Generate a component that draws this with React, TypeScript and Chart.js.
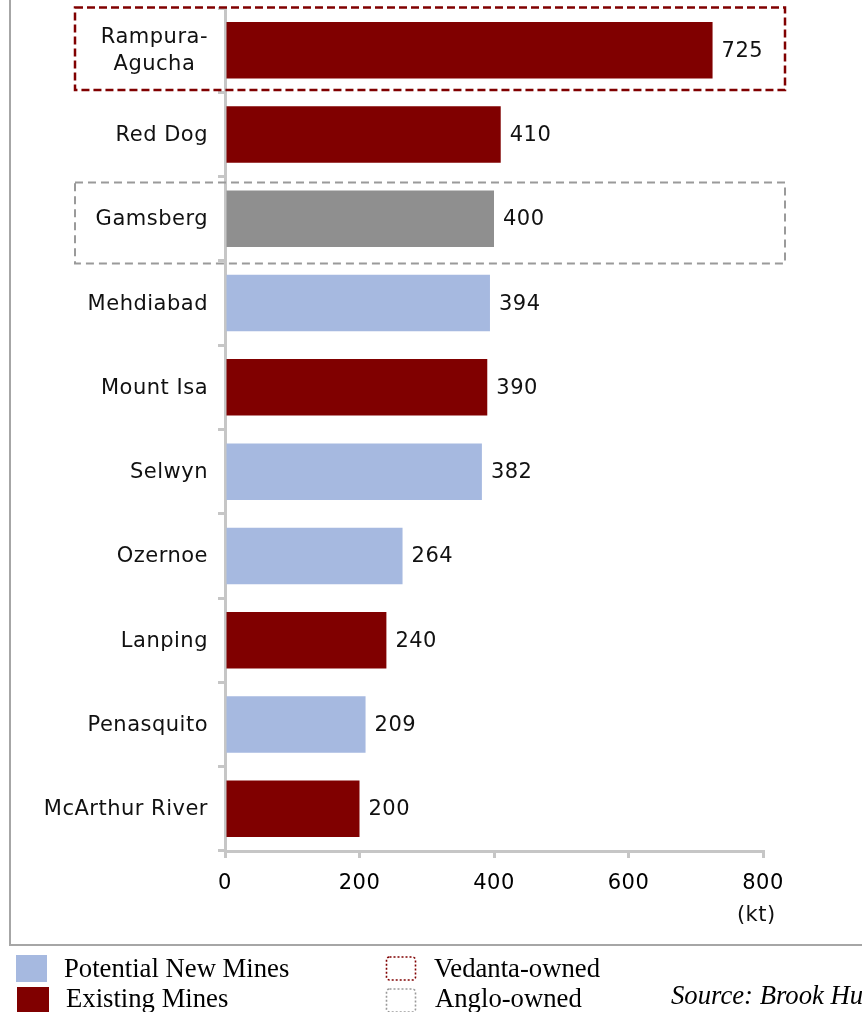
import React, { useEffect, useRef } from 'react';
import { Chart, registerables } from 'chart.js';

Chart.register(...registerables);

// ---- data ----
const categories: (string | string[])[] = [
  ['Rampura-', 'Agucha'],
  'Red Dog',
  'Gamsberg',
  'Mehdiabad',
  'Mount Isa',
  'Selwyn',
  'Ozernoe',
  'Lanping',
  'Penasquito',
  'McArthur River',
];
const values: number[] = [725, 410, 400, 394, 390, 382, 264, 240, 209, 200];
const mineTypes: string[] = [
  'existing',
  'existing',
  'anglo',
  'potential',
  'existing',
  'potential',
  'potential',
  'existing',
  'potential',
  'existing',
];
const xTickValues: number[] = [0, 200, 400, 600, 800];
const unitLabel = '(kt)';
const ownedBoxes = [
  { owner: 'Vedanta', index: 0 },
  { owner: 'Anglo', index: 2 },
];
const legendLeft = [
  { label: 'Potential New Mines', type: 'potential' },
  { label: 'Existing Mines', type: 'existing' },
];
const legendRight = [
  { label: 'Vedanta-owned', owner: 'Vedanta' },
  { label: 'Anglo-owned', owner: 'Anglo' },
];
const sourceText = 'Source: Brook Hunt';

// ---- style ----
const W = 862;
const H = 1012;
const typeColors: Record<string, string> = {
  existing: '#800000',
  potential: '#a6b9e0',
  anglo: '#8f8f8f',
};
const ownerColors: Record<string, string> = {
  Vedanta: '#800000',
  Anglo: '#9a9a9a',
};
const axisColor = '#c6c6c6';
const SANS = '"DejaVu Sans"';
const SERIF = '"Liberation Serif"';
const LS = '0.5px';

const decorPlugin = {
  id: 'decor',
  beforeDraw(chart: any) {
    const ctx = chart.ctx as CanvasRenderingContext2D;
    ctx.save();
    ctx.fillStyle = '#ffffff';
    ctx.fillRect(0, 0, W, H);
    ctx.strokeStyle = '#a6a6a6';
    ctx.lineWidth = 2;
    ctx.beginPath();
    ctx.moveTo(10, 0);
    ctx.lineTo(10, 945);
    ctx.lineTo(W, 945);
    ctx.stroke();
    ctx.restore();
    (ctx as any).letterSpacing = LS;
  },
  afterDraw(chart: any) {
    const ctx = chart.ctx as CanvasRenderingContext2D;
    const yScale = chart.scales.y;
    const xScale = chart.scales.x;
    ctx.save();
    (ctx as any).letterSpacing = LS;

    // ownership boxes
    ownedBoxes.forEach((b) => {
      const offs = b.owner === 'Vedanta' ? [-0.506, 0.472] : [-0.43, 0.53];
      const top = yScale.getPixelForValue(b.index + offs[0]);
      const bottom = yScale.getPixelForValue(b.index + offs[1]);
      ctx.save();
      ctx.strokeStyle = ownerColors[b.owner];
      ctx.lineWidth = b.owner === 'Vedanta' ? 2.5 : 2;
      ctx.setLineDash(b.owner === 'Vedanta' ? [8, 4] : [8, 5]);
      ctx.strokeRect(75, top, 710, bottom - top);
      ctx.restore();
    });

    // category labels
    ctx.fillStyle = '#111111';
    ctx.font = `21px ${SANS}`;
    ctx.textBaseline = 'middle';
    categories.forEach((c, i) => {
      const y = yScale.getPixelForValue(i);
      const right = 208;
      if (Array.isArray(c)) {
        const widths = c.map((l) => ctx.measureText(l).width);
        const wmax = Math.max(...widths);
        const cx = right - wmax / 2;
        ctx.textAlign = 'center';
        const lh = 27;
        c.forEach((l, k) => {
          ctx.fillText(l, cx, y + 1 + (k - (c.length - 1) / 2) * lh);
        });
      } else {
        ctx.textAlign = 'right';
        ctx.fillText(c, right, y + 1);
      }
    });

    // value labels
    const meta = chart.getDatasetMeta(0);
    ctx.textAlign = 'left';
    meta.data.forEach((bar: any, i: number) => {
      ctx.fillText(String(values[i]), bar.x + 9, bar.y + 1);
    });

    // unit label
    ctx.textAlign = 'center';
    ctx.fillText(unitLabel, xScale.getPixelForValue(790), 916);

    // legend
    (ctx as any).letterSpacing = '0px';
    ctx.font = `26.7px ${SERIF}`;
    ctx.textAlign = 'left';
    ctx.textBaseline = 'alphabetic';
    ctx.fillStyle = '#000000';
    legendLeft.forEach((it, k) => {
      ctx.fillStyle = typeColors[it.type];
      if (k === 0) ctx.fillRect(16, 955, 31, 27);
      else ctx.fillRect(17, 987, 32, 27);
      ctx.fillStyle = '#000000';
      ctx.fillText(it.label, k === 0 ? 64 : 66, k === 0 ? 977 : 1007);
    });
    legendRight.forEach((it, k) => {
      ctx.save();
      ctx.strokeStyle = ownerColors[it.owner];
      ctx.lineWidth = 1.6;
      ctx.setLineDash([2, 2]);
      const y0 = k === 0 ? 957 : 989;
      ctx.beginPath();
      (ctx as any).roundRect(386.5, y0, 29, 23, 3);
      ctx.stroke();
      ctx.restore();
      ctx.fillStyle = '#000000';
      ctx.fillText(it.label, k === 0 ? 434 : 435, k === 0 ? 977 : 1007);
    });
    ctx.font = `italic 26.7px ${SERIF}`;
    ctx.fillText(sourceText, 671, 1004);
    ctx.restore();
    (ctx as any).letterSpacing = '0px';
  },
};

export default function App() {
  const ref = useRef<HTMLCanvasElement | null>(null);
  useEffect(() => {
    if (!ref.current) return;
    Chart.defaults.font.family = SANS;
    const chart = new Chart(ref.current, {
      type: 'bar',
      data: {
        labels: categories as any,
        datasets: [
          {
            data: values,
            backgroundColor: mineTypes.map((t) => typeColors[t]),
            barPercentage: 0.67,
            categoryPercentage: 1,
          },
        ],
      },
      options: {
        indexAxis: 'y',
        responsive: false,
        animation: false,
        devicePixelRatio: 1,
        layout: { padding: { top: 8, right: 99, left: 0, bottom: 0 } },
        plugins: {
          legend: { display: false },
          tooltip: { enabled: false },
        },
        scales: {
          x: {
            type: 'linear',
            min: 0,
            max: 800,
            afterBuildTicks: (scale: any) => {
              scale.ticks = xTickValues.map((v) => ({ value: v }));
            },
            ticks: {
              font: { size: 21, family: SANS },
              color: '#000000',
              padding: 13,
            },
            grid: {
              drawOnChartArea: false,
              drawTicks: true,
              tickLength: 7,
              color: axisColor,
              lineWidth: 3,
            },
            border: { color: axisColor, width: 3 },
            afterFit: (scale: any) => {
              scale.height = 161;
            },
          },
          y: {
            type: 'category',
            z: 1,
            ticks: { display: false },
            grid: {
              offset: true,
              drawOnChartArea: false,
              drawTicks: true,
              tickLength: 7,
              color: axisColor,
              lineWidth: 3,
            },
            border: { color: axisColor, width: 3 },
            afterFit: (scale: any) => {
              scale.width = 225;
            },
          },
        },
      },
      plugins: [decorPlugin],
    });
    return () => chart.destroy();
  }, []);
  return (
    <div style={{ position: 'fixed', left: 0, top: 0, width: W, height: H, background: '#fff' }}>
      <canvas ref={ref} width={W} height={H} style={{ width: W, height: H, display: 'block' }} />
    </div>
  );
}
